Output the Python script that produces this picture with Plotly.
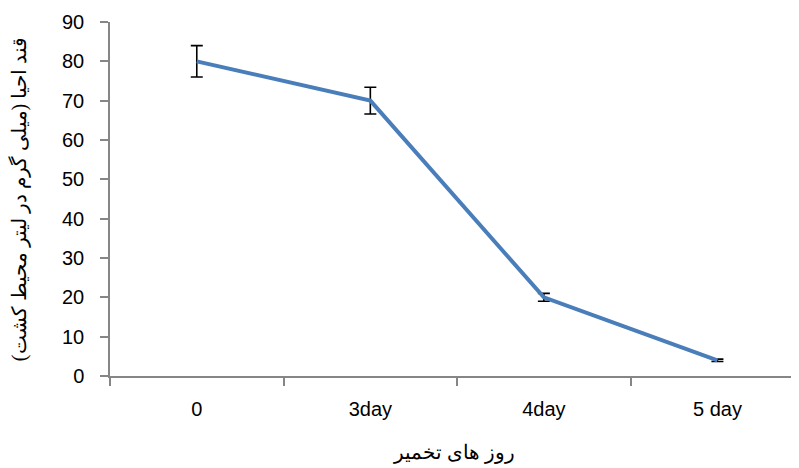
import plotly.graph_objects as go

categories = ["0", "3day", "4day", "5 day"]
sugar = [80, 70, 20, 4]
errors = [4, 3.4, 1, 0.3]

fig = go.Figure()
fig.add_trace(go.Scatter(
    x=categories, y=sugar, mode="lines",
    line=dict(color="#4a7ebb", width=4),
    error_y=dict(type="data", array=errors, visible=True, color="black", thickness=1.6, width=6),
    showlegend=False,
))

title_font = dict(family="Times New Roman, Liberation Serif, DejaVu Serif, serif", size=20, color="black")

# the page body adds an 8px offset, so the figure is sized to fit the window
fig.update_layout(
    width=791, height=460,
    margin=dict(l=102, r=0, t=14, b=92),
    paper_bgcolor="white", plot_bgcolor="white",
    font=dict(family="Liberation Sans, Arial, sans-serif", size=20, color="black"),
)
fig.update_xaxes(
    type="category", range=[-0.5, 3.47], automargin=False,
    showline=True, linecolor="#868686", linewidth=1.5,
    ticks="outside", tickson="boundaries", ticklen=8, tickcolor="#868686", tickwidth=1.5,
    ticklabelstandoff=14,
    showgrid=False, zeroline=False,
    title=dict(text="روز های تخمیر", font=title_font, standoff=26),
)
fig.update_yaxes(
    range=[0, 90], dtick=10, automargin=False,
    showline=True, linecolor="#868686", linewidth=1.5,
    ticks="outside", ticklen=8, tickcolor="#868686", tickwidth=1.5,
    ticklabelstandoff=12,
    showgrid=False, zeroline=False,
    title=dict(text="قند احیا (میلی گرم در لیتر محیط کشت)", font=title_font, standoff=30),
)

fig.write_html("out.html")
